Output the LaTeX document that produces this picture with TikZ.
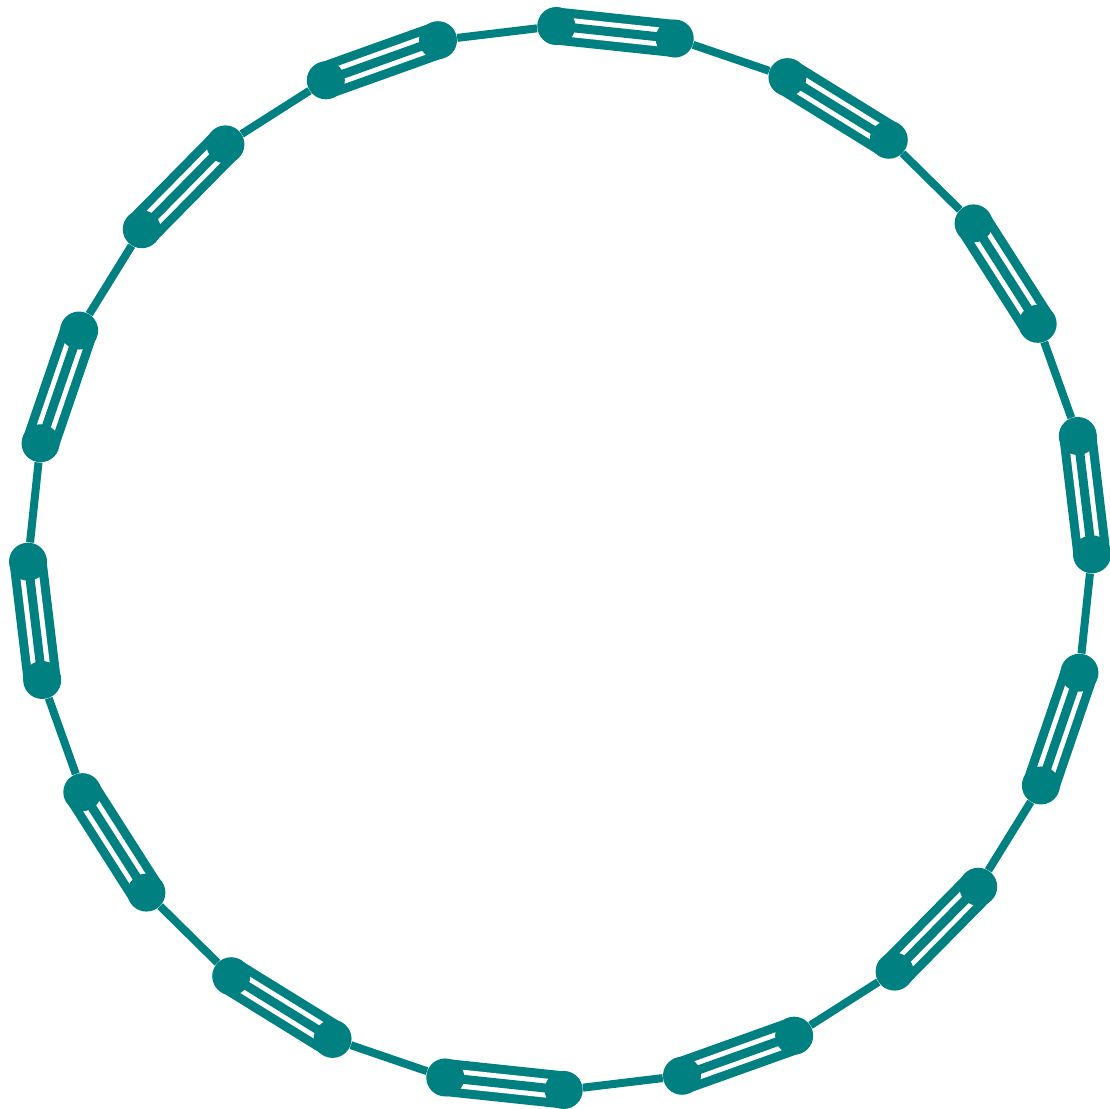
\documentclass[tikz,border=0pt]{standalone}
\usetikzlibrary{backgrounds}
\begin{document}
\begin{tikzpicture}[atom/.style={circle, fill=teal, inner sep=0pt, minimum size=0.76cm},
    single/.style={teal, line width=0.16cm},
    triple/.style={teal, line width=0.74cm},
    gaps/.style={white, line width=0.1cm, double=teal, double distance=0.18cm}]
        \useasboundingbox (-11.2,-11.02) rectangle (11.0,11.16);
        \foreach \i in {0,...,27}
          \node[atom] (a\i) at (0.4+\i*360/28:10.64) {};
        \begin{scope}[on background layer]
          \foreach \i [evaluate=\i as \j using int(\i+1)] in {0,2,...,26} {
            \draw[triple] (a\i.center) -- (a\j.center);
            \draw[gaps] (a\i.center) -- (a\j.center);
          }
          \foreach \i [evaluate={\j=int(mod(\i+1,28));}] in {1,3,...,27}
            \draw[single] (a\i) -- (a\j);
        \end{scope}
      \end{tikzpicture}
\end{document}
